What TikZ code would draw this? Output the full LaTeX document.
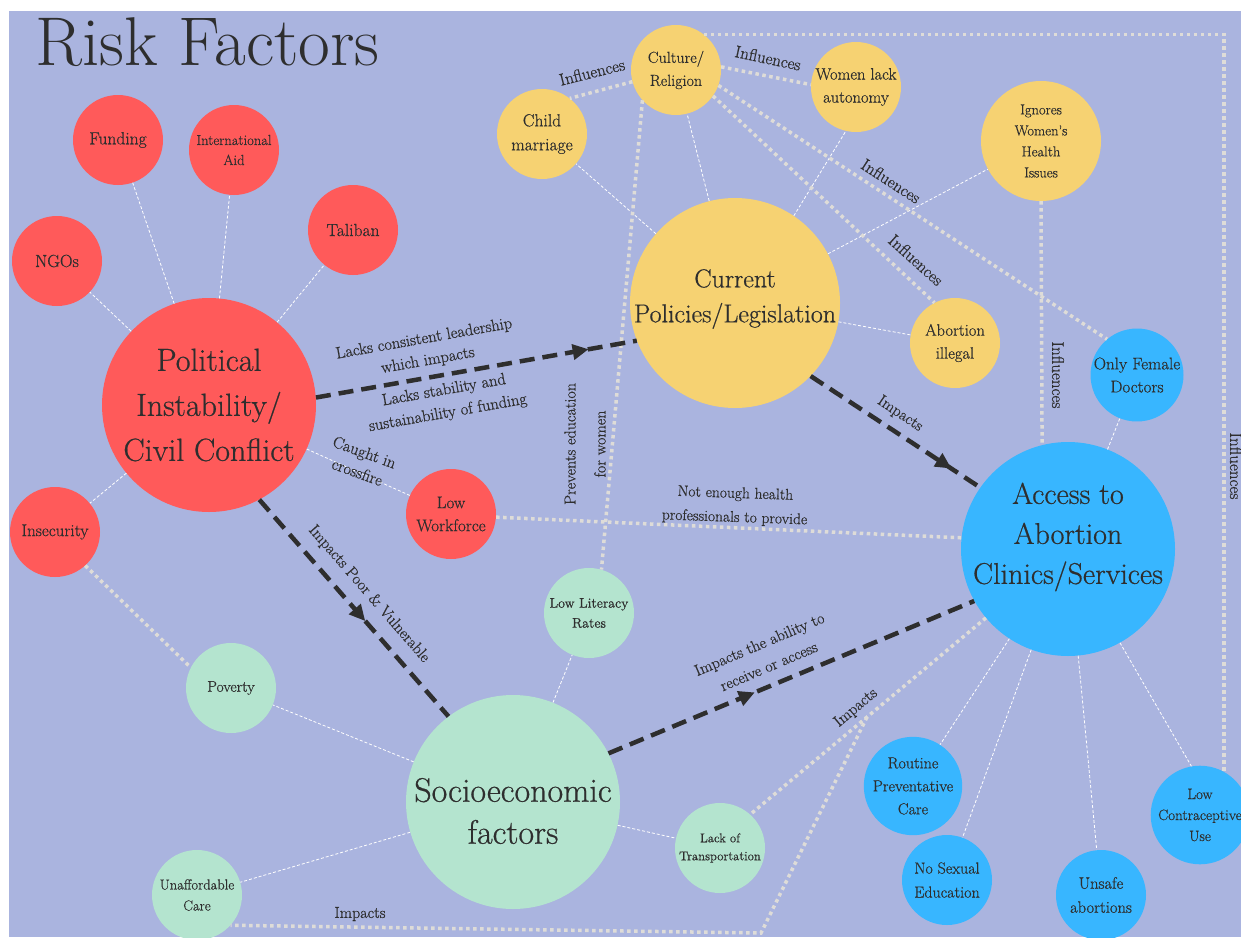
\documentclass[tikz,border=0pt]{standalone}
\usepackage{fontspec}
\newfontfamily\heavy{Latin Modern Roman}[FakeBold=0.6]
\usetikzlibrary{arrows.meta,decorations.markings}
\definecolor{bgc}{HTML}{AAB4DF}
\definecolor{cred}{HTML}{FF5A5A}
\definecolor{cyel}{HTML}{F6D272}
\definecolor{cblu}{HTML}{38B6FF}
\definecolor{cgrn}{HTML}{B4E4CF}
\definecolor{txt}{HTML}{2E2E2E}
\definecolor{dotc}{HTML}{DEDCD8}
\newcommand\myfs[2]{\heavy\fontsize{#1}{#2}\selectfont}
\tikzset{
  circ/.style={circle, inner sep=0pt, minimum size=90pt, align=center, text=txt, font=\myfs{17}{23}},
  redc/.style={circ, fill=cred},
  yelc/.style={circ, fill=cyel},
  bluc/.style={circ, fill=cblu},
  grnc/.style={circ, fill=cgrn},
  bigtxt/.style={text=txt, align=center, inner sep=0pt},
  thin/.style={draw=white, line width=0.8pt, dash pattern=on 3pt off 2pt},
  dots/.style={draw=dotc, line width=3.5pt, dash pattern=on 3.5pt off 3.5pt},
  bigarrow/.style={draw=txt, line width=4.5pt, dash pattern=on 15pt off 8pt,
    postaction={decorate, decoration={markings, mark=at position #1 with {\arrow[txt]{Triangle[length=16pt,width=15pt]}}}}},
  lbl/.style={text=txt, align=center, inner sep=0pt, font=\myfs{16}{23}}
}
\begin{document}
\begin{tikzpicture}[x=1pt,y=-1pt]
\useasboundingbox (0,0) rectangle (1241,937);
\fill[white] (0,0) rectangle (1241,937);
\fill[bgc] (9,11) rectangle (1241,937);

\node[anchor=base west, font=\fontsize{69}{69}\selectfont, text=txt, inner sep=0pt] (title) at (35,65) {Risk Factors};

% red
\node[redc, minimum size=214pt, font=\myfs{32}{45}] (pol) at (209,405) {Political\\Instability/\\Civil Conflict};
\node[redc, font=\myfs{17.5}{23}] (fund) at (118,140) {Funding};
\node[redc, font=\myfs{14.5}{20}] (aid) at (234,150) {International\\Aid};
\node[redc, font=\myfs{17.5}{23}] (tal) at (353,230) {Taliban};
\node[redc, font=\myfs{17.5}{23}] (ngo) at (57,261) {NGOs};
\node[redc, font=\myfs{17}{23}] (insec) at (55,532) {Insecurity};
\node[redc, font=\myfs{17}{23}] (lw) at (451,514) {Low\\Workforce};

% yellow
\node[yelc, minimum size=210pt] (cpl) at (735,303) {};
\node[bigtxt, font=\myfs{26}{35}] (cpltxt) at (735,299) {Current\\Policies/Legislation};
\node[yelc, font=\myfs{16}{23}] (cult) at (676,70) {Culture/\\Religion};
\node[yelc, font=\myfs{17.5}{24}] (child) at (542,134) {Child\\marriage};
\node[yelc, font=\myfs{16.5}{23}] (wla) at (856,87) {Women lack\\autonomy};
\node[yelc, minimum size=120pt, font=\myfs{14.5}{21}] (ign) at (1041,141) {Ignores\\Women’s\\Health\\Issues};
\node[yelc, font=\myfs{16.5}{23}] (ail) at (955,343) {Abortion\\illegal};

% blue
\node[bluc, minimum size=214pt] (acc) at (1068,549) {};
\node[bigtxt, font=\myfs{30}{40}] (acctxt) at (1068,537) {Access to\\Abortion\\Clinics/Services};
\node[bluc, font=\myfs{17}{23}] (ofd) at (1137,375) {Only Female\\Doctors};
\node[bluc, font=\myfs{16}{23}] (rpc) at (913,786) {Routine\\Preventative\\Care};
\node[bluc, font=\myfs{16}{24}] (nse) at (947,880) {No Sexual\\Education};
\node[bluc, font=\myfs{16.5}{24}] (usa) at (1101,895) {Unsafe\\abortions};
\node[bluc, minimum size=98pt, font=\myfs{15}{21}] (lcu) at (1200,815) {Low\\Contraceptive\\Use};

% green
\node[grnc, minimum size=214pt] (soc) at (513,802) {};
\node[bigtxt, font=\myfs{34}{42}] (soctxt) at (513,811) {Socioeconomic\\factors};
\node[grnc, font=\myfs{14}{20}] (llr) at (589,613) {Low Literacy\\Rates};
\node[grnc, font=\myfs{15.5}{23}] (pov) at (231,688) {Poverty};
\node[grnc, font=\myfs{12.7}{18}] (lot) at (720,848) {Lack of\\Transportation};
\node[grnc, font=\myfs{14.5}{21}] (uc) at (197,895) {Unaffordable\\Care};

% thin white links
\draw[thin] (pol) -- (fund);
\draw[thin] (pol) -- (aid);
\draw[thin] (pol) -- (tal);
\draw[thin] (pol) -- (ngo);
\draw[thin] (pol) -- (insec);
\draw[thin] (pol) -- (lw);
\draw[thin] (cpl) -- (child);
\draw[thin] (cpl) -- (cult);
\draw[thin] (cpl.56) -- (wla.-103);
\draw[thin] (cpl) -- (ign);
\draw[thin] (cpl) -- (ail);
\draw[thin] (acc) -- (ofd);
\draw[thin] (acc) -- (rpc);
\draw[thin] (acc) -- (nse);
\draw[thin] (acc) -- (usa);
\draw[thin] (acc.-61) -- (lcu.100);
\draw[thin] (soc) -- (pov);
\draw[thin] (soc) -- (llr);
\draw[thin] (soc) -- (lot);
\draw[thin] (soc) -- (uc);

% dotted links
\coordinate (fork) at (867,717);
\coordinate (bend) at (761,933);
\draw[dots] (cult.195) -- (child.52);
\draw[dots] (cult.4) -- (wla.177);
\draw[dots] (cult.-20) -- (ofd.130);
\draw[dots] (cult.-35) -- (ail.117);
\draw[dots] (cult.222) -- (llr.74);
\draw[dots] (cult.52) -| (lcu.61);
\draw[dots] (ign.south) -- (acc.104);
\draw[dots] (insec.-48) -- (pov.153);
\draw[dots] (lw.-4) -- (acc.174);
\draw[dots] (acc.220) -- (lot.48);
\draw[dots] (fork) -- (bend) -- (uc.-42);

% thick arrows
\draw[bigarrow=0.85] (pol.4) -- (cpl.201);
\draw[bigarrow=0.83] (cpl.-44) -- (acc.145);
\draw[bigarrow=0.56] (pol.-62) -- (soc.127);
\draw[bigarrow=0.40] (soc.27) -- (acc.209);

% labels
\node[lbl, rotate=14, font=\myfs{17}{23}] (l1) at (592,72) {Influences};
\node[lbl, rotate=-12, font=\myfs{17}{23}] (l2) at (768,58) {Influences};
\node[lbl, rotate=-33, font=\myfs{17}{23}] (l3) at (891,181) {Influences};
\node[lbl, rotate=-42, font=\myfs{17}{23}] (l4) at (916,260) {Influences};
\node[lbl, rotate=-90, font=\myfs{17}{23}] (l5) at (1058,375) {Influences};
\node[lbl, rotate=-90, font=\myfs{17}{23}] (l6) at (1236,466) {Influences};
\node[lbl, rotate=90, font=\myfs{16}{30}] (l7) at (585,444) {Prevents education\\for women};
\node[lbl, rotate=-2, font=\myfs{15.5}{24}] (l8) at (735,506) {Not enough health\\professionals to provide};
\node[lbl, rotate=10, font=\myfs{16.5}{22}] (l9) at (426,350) {Lacks consistent leadership\\which impacts};
\node[lbl, rotate=10, font=\myfs{16.5}{23}] (l10) at (446,402) {Lacks stability and\\sustainability of funding};
\node[lbl, rotate=-20, font=\myfs{16.5}{21}] (l11) at (361,462) {Caught in\\crossfire};
\node[lbl, rotate=-49] (l12) at (369,594) {Impacts Poor \& Vulnerable};
\node[lbl, rotate=-34] (l13) at (900,414) {Impacts};
\node[lbl, rotate=23, font=\myfs{16}{24}] (l14) at (764,655) {Impacts the ability to\\receive or access};
\node[lbl, rotate=40] (l15) at (856,708) {Impacts};
\node[lbl] (l16) at (360,914) {Impacts};
\end{tikzpicture}
\end{document}
